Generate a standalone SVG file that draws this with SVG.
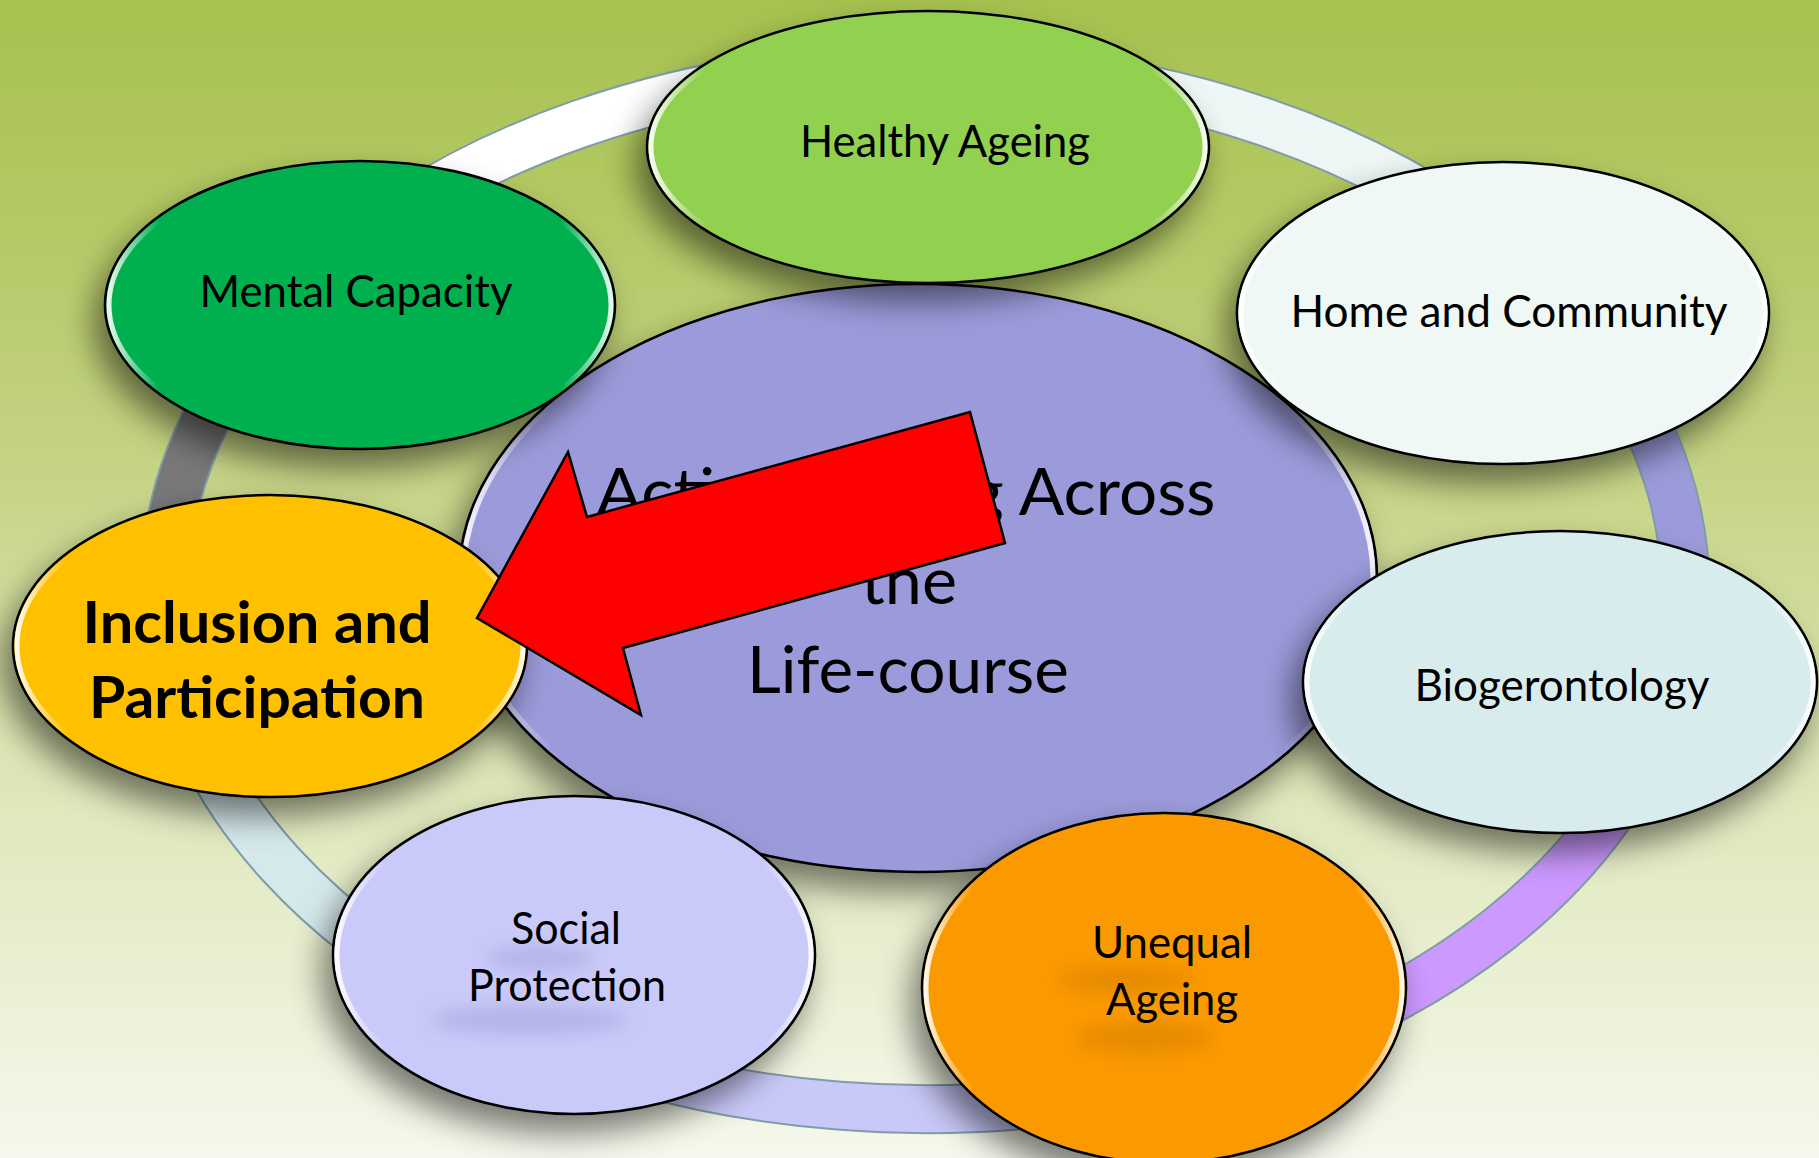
<svg xmlns="http://www.w3.org/2000/svg" width="1819" height="1158" viewBox="0 0 1819 1158">
<defs>
<linearGradient id="bg" x1="0" y1="0" x2="0" y2="1">
<stop offset="0" stop-color="#a7c24f"/>
<stop offset="0.2" stop-color="#b5c966"/>
<stop offset="0.4" stop-color="#c5d384"/>
<stop offset="0.7" stop-color="#e0e8bd"/>
<stop offset="1" stop-color="#f5f8ec"/>
</linearGradient>
<linearGradient id="rim" x1="0" y1="0" x2="1" y2="0">
<stop offset="0" stop-color="#ffffff" stop-opacity="0.9"/>
<stop offset="0.1" stop-color="#ffffff" stop-opacity="0"/>
<stop offset="0.9" stop-color="#ffffff" stop-opacity="0"/>
<stop offset="1" stop-color="#ffffff" stop-opacity="0.9"/>
</linearGradient>
<filter id="shadow" x="-30%" y="-30%" width="160%" height="170%">
<feGaussianBlur in="SourceAlpha" stdDeviation="16"/>
<feOffset dx="-10" dy="18" result="b"/>
<feFlood flood-color="#000000" flood-opacity="0.5"/>
<feComposite in2="b" operator="in" result="s"/>
<feMerge><feMergeNode in="s"/><feMergeNode in="SourceGraphic"/></feMerge>
</filter>
<filter id="blur" x="-50%" y="-50%" width="200%" height="200%">
<feGaussianBlur stdDeviation="9"/>
</filter>
<style>
.ring-edge{fill:none;stroke:#7f9ca8;stroke-width:50}
.ring{fill:none;stroke-width:46}
.node{stroke:#000;stroke-width:2.6}
.rim{fill:none;stroke:url(#rim);stroke-width:5}
.smudge{filter:url(#blur);opacity:0.22}
.t{font-family:Lato,"Open Sans","DejaVu Sans",sans-serif;fill:#000;text-anchor:middle}
.big{font-size:65px}
.mid{font-size:44px}
.bold{font-size:58px;font-weight:bold}
</style>
</defs>
<rect x="0" y="0" width="1819" height="1158" fill="url(#bg)"/>

<g id="connectors">
<path class="ring-edge" d="M925,67 A760,521 0 0 1 1532,274.5"/>
<path class="ring" stroke="#eef7f5" d="M925,67 A760,521 0 0 1 1532,274.5"/>
<path class="ring-edge" d="M1532,274.5 A760,521 0 0 1 1668.4,696.3"/>
<path class="ring" stroke="#9b9bdb" d="M1532,274.5 A760,521 0 0 1 1668.4,696.3"/>
<path class="ring-edge" d="M1668.4,696.3 A760,521 0 0 1 1184.9,1077.6"/>
<path class="ring" stroke="#cc99ff" d="M1668.4,696.3 A760,521 0 0 1 1184.9,1077.6"/>
<path class="ring-edge" d="M1184.9,1077.6 A760,521 0 0 1 511.1,1025"/>
<path class="ring" stroke="#c9c9f9" d="M1184.9,1077.6 A760,521 0 0 1 511.1,1025"/>
<path class="ring-edge" d="M511.1,1025 A760,521 0 0 1 170.7,651.5"/>
<path class="ring" stroke="#d5e9ec" d="M511.1,1025 A760,521 0 0 1 170.7,651.5"/>
<path class="ring-edge" d="M170.7,651.5 A760,521 0 0 1 310.2,281.8"/>
<path class="ring" stroke="#787878" d="M170.7,651.5 A760,521 0 0 1 310.2,281.8"/>
<path class="ring-edge" d="M310.2,281.8 A760,521 0 0 1 925,67"/>
<path class="ring" stroke="#ffffff" d="M310.2,281.8 A760,521 0 0 1 925,67"/>
</g>

<g id="center">
<ellipse class="node" cx="918" cy="578" rx="459" ry="294" fill="#9b9bdb" filter="url(#shadow)"/>
<ellipse class="rim" cx="918" cy="578" rx="455" ry="290"/>
<text class="t big" x="906" y="515" textLength="619" lengthAdjust="spacingAndGlyphs">Active Ageing Across</text>
<text class="t big" x="909" y="604" textLength="96" lengthAdjust="spacingAndGlyphs">the</text>
<text class="t big" x="908" y="693" textLength="322" lengthAdjust="spacingAndGlyphs">Life-course</text>
</g>

<g id="healthy-ageing">
<ellipse class="node" cx="928" cy="147" rx="281" ry="136" fill="#92d050" filter="url(#shadow)"/>
<ellipse class="rim" cx="928" cy="147" rx="277" ry="132"/>
<text class="t mid" x="945" y="157" textLength="290" lengthAdjust="spacingAndGlyphs">Healthy Ageing</text>
</g>

<g id="mental-capacity">
<ellipse class="node" cx="360" cy="305" rx="255" ry="144" fill="#00b050" filter="url(#shadow)"/>
<ellipse class="rim" cx="360" cy="305" rx="251" ry="140"/>
<text class="t mid" x="356" y="307" textLength="313" lengthAdjust="spacingAndGlyphs">Mental Capacity</text>
</g>

<g id="home-and-community">
<ellipse class="node" cx="1503" cy="313" rx="266" ry="151" fill="#eff8f5" filter="url(#shadow)"/>
<ellipse class="rim" cx="1503" cy="313" rx="262" ry="147"/>
<text class="t mid" x="1509" y="327" textLength="437" lengthAdjust="spacingAndGlyphs">Home and Community</text>
</g>

<g id="biogerontology">
<ellipse class="node" cx="1560" cy="682" rx="257" ry="151" fill="#d8ecee" filter="url(#shadow)"/>
<ellipse class="rim" cx="1560" cy="682" rx="253" ry="147"/>
<text class="t mid" x="1562" y="701" textLength="295" lengthAdjust="spacingAndGlyphs">Biogerontology</text>
</g>

<g id="unequal-ageing">
<ellipse class="node" cx="1164" cy="988" rx="242" ry="175" fill="#fb9a00" filter="url(#shadow)"/>
<ellipse class="smudge" cx="1125" cy="980" rx="70" ry="14" fill="#a05800"/>
<ellipse class="smudge" cx="1145" cy="1038" rx="70" ry="16" fill="#a05800"/>
<ellipse class="rim" cx="1164" cy="988" rx="238" ry="171"/>
<text class="t mid" x="1172" y="958" textLength="160" lengthAdjust="spacingAndGlyphs">Unequal</text>
<text class="t mid" x="1172" y="1015" textLength="132" lengthAdjust="spacingAndGlyphs">Ageing</text>
</g>

<g id="social-protection">
<ellipse class="node" cx="574" cy="955" rx="241" ry="159" fill="#cacafa" filter="url(#shadow)"/>
<ellipse class="smudge" cx="540" cy="958" rx="55" ry="12" fill="#6060a0"/>
<ellipse class="smudge" cx="530" cy="1020" rx="100" ry="14" fill="#6060a0"/>
<ellipse class="rim" cx="574" cy="955" rx="237" ry="155"/>
<text class="t mid" x="566" y="944" textLength="110" lengthAdjust="spacingAndGlyphs">Social</text>
<text class="t mid" x="567" y="1001" textLength="198" lengthAdjust="spacingAndGlyphs">Protection</text>
</g>

<g id="inclusion-and-participation">
<ellipse class="node" cx="270" cy="646" rx="257" ry="151" fill="#ffc000" filter="url(#shadow)"/>
<ellipse class="rim" cx="270" cy="646" rx="253" ry="147"/>
<text class="t bold" x="257" y="643" textLength="349" lengthAdjust="spacingAndGlyphs">Inclusion and</text>
<text class="t bold" x="257" y="718" textLength="336" lengthAdjust="spacingAndGlyphs">Participation</text>
</g>

<g id="arrow">
<polygon points="477,618 568,452 587,517 970,412 1005,543 623,648 641,715" fill="#ff0000" stroke="#000" stroke-width="2.5" stroke-linejoin="miter"/>
</g>
</svg>
